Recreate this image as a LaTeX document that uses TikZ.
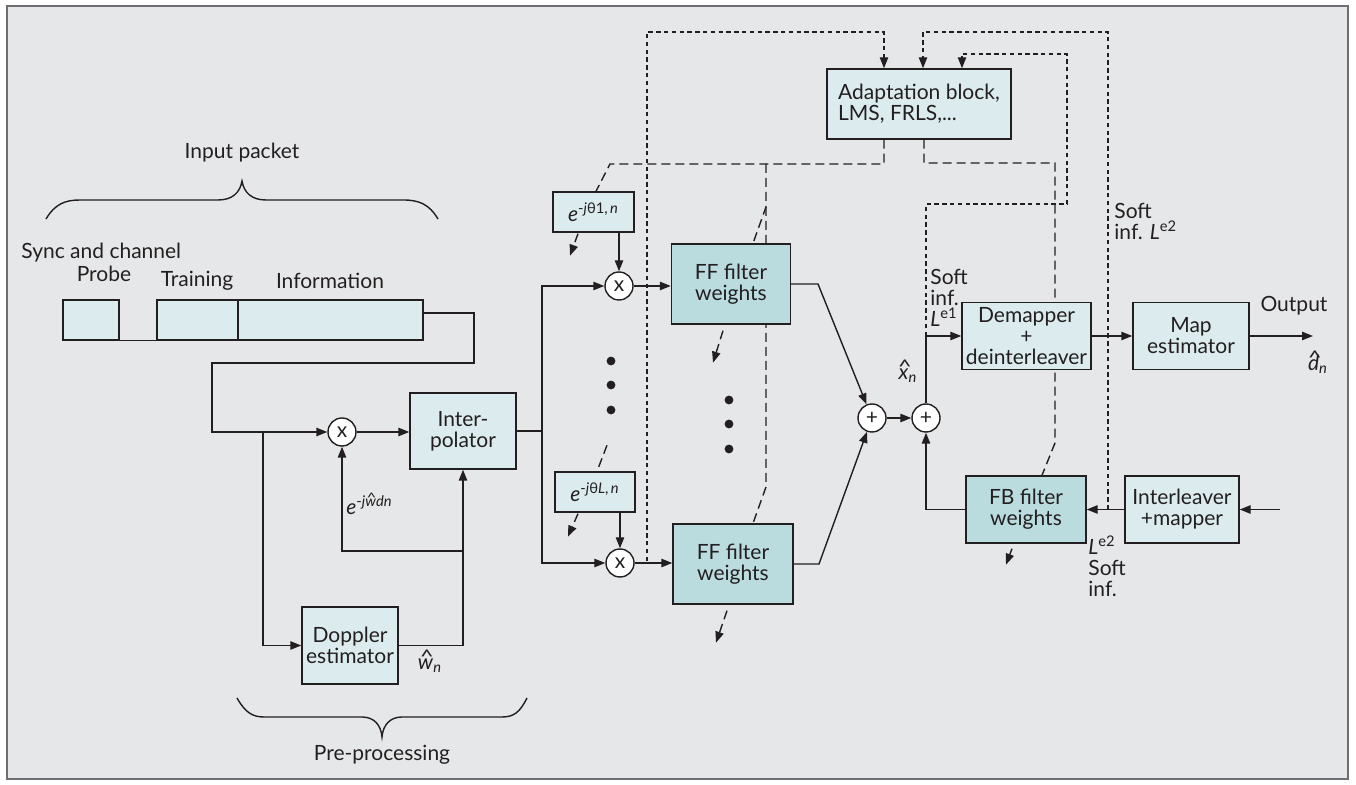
\documentclass[tikz,border=0pt]{standalone}
\usepackage{fontspec}
\setmainfont{Lato}
\usetikzlibrary{arrows.meta,calc}
\definecolor{bgc}{HTML}{E6E7E8}
\definecolor{framec}{HTML}{6D6E71}
\definecolor{boxc}{HTML}{DCEBEE}
\definecolor{ffc}{HTML}{BBDCDF}
\definecolor{linec}{HTML}{231F20}
\pgfdeclarelayer{bg}\pgfdeclarelayer{lines}\pgfsetlayers{bg,lines,main}
\newcommand\myhat[1]{{\ooalign{\textit{#1}\cr\hidewidth\kern0.12em\raisebox{0.28em}{\scalebox{1.15}[0.9]{\textasciicircum}}\hidewidth\cr}}}
\begin{document}
\begin{tikzpicture}[x=0.5pt,y=-0.5pt, font=\fontsize{10.5}{10.5}\selectfont,
 >={Triangle[length=5.5pt,width=4.2pt]},
 box/.style={draw=linec, line width=0.7pt, fill=boxc, inner sep=1pt, align=center, text=linec},
 wbox/.style={box, fill=ffc},
 op/.style={circle, draw=linec, fill=white, line width=0.7pt, minimum size=14pt, inner sep=0pt, text=linec},
 conn/.style={draw=linec, line width=0.7pt},
 fdash/.style={conn, dash pattern=on 2.2pt off 1.7pt},
 ldash/.style={conn, dash pattern=on 4.5pt off 2.5pt},
 lbl/.style={inner sep=0pt, align=left, text=linec},
 dot/.style={fill=linec}]
\useasboundingbox (0,0) rectangle (1356,785);
\begin{pgfonlayer}{bg}
\fill[white] (0,0) rectangle (1356,785);
\filldraw[fill=bgc, draw=framec, line width=1pt] (7,6) rectangle (1348,779);
\end{pgfonlayer}

% packet
\node[box, minimum width=28pt, minimum height=20pt] (probe) at (91,320) {};
\node[box, minimum width=40.5pt, minimum height=20pt] (train) at (197.5,320) {};
\node[box, minimum width=92.5pt, minimum height=20pt] (info) at (330.5,320) {};
\node[lbl, anchor=west] (sync) at (21,253) {Sync and channel};
\node[lbl] (probel) at (104,274) {Probe};
\node[lbl] (trainl) at (197,281) {Training};
\node[lbl] (infol) at (330,281) {Information};
\node[lbl] (inpkt) at (242,153) {Input packet};

% pre-processing
\node[box, minimum width=53pt, minimum height=38pt] (interp) at (463,431) {Inter-\\polator};
\node[box, minimum width=48pt, minimum height=38.5pt] (dopp) at (350,645.5) {Doppler\\estimator};
\node[op] (mx0) at (342,432) {x};
\node[lbl, anchor=west] (ewd) at (346,505) {\textit{e}\textsuperscript{-\textit{j}\myhat{w}\textit{dn}}};
\node[lbl] (wn) at (430,666) {\myhat{w}\textsubscript{\textit{n}}};
\node[lbl] (prep) at (382,755) {Pre-processing};

% FF branches
\node[box, minimum width=40.5pt, minimum height=20pt] (th1) at (593.5,212) {\textit{e}\textsuperscript{-\textit{j}θ1,\,\textit{n}}};
\node[box, minimum width=40pt, minimum height=20pt] (thL) at (595,492) {\textit{e}\textsuperscript{-\textit{j}θ\textit{L},\,\textit{n}}};
\node[op] (mx1) at (619,286) {x};
\node[op] (mx2) at (620,563) {x};
\node[wbox, minimum width=59.5pt, minimum height=40pt] (ff1) at (731,284) {FF filter\\weights};
\node[wbox, minimum width=60pt, minimum height=40pt] (ff2) at (733,564) {FF filter\\weights};

% adaptation and right part
\node[box, minimum width=92pt, minimum height=35pt, align=left] (adapt) at (919,104) {Adaptation block,\\LMS, FRLS,...};
\node[op] (add1) at (872,418) {+};
\node[op] (add2) at (926,418) {+};
\node[box, minimum width=64.5pt, minimum height=33.5pt] (demap) at (1026.5,336) {Demapper\\+\\deinterleaver};
\node[box, minimum width=58pt, minimum height=33.5pt] (map) at (1191,336) {Map\\estimator};
\node[wbox, minimum width=60pt, minimum height=33.5pt] (fb) at (1026,509.5) {FB filter\\weights};
\node[box, minimum width=57pt, minimum height=33.5pt] (intl) at (1182,509.5) {Interleaver\\+mapper};

\node[lbl] (xn) at (908,376) {\myhat{x}\textsubscript{\textit{n}}};
\node[lbl] (dn) at (1318,364) {\myhat{d}\textsubscript{\textit{n}}};
\node[lbl] (outl) at (1294,306) {Output};
\node[lbl, anchor=west] (le1) at (930,298) {Soft\\inf.\\\textit{L}\textsuperscript{e1}};
\node[lbl, anchor=west] (le2a) at (1114,221) {Soft\\inf. \textit{L}\textsuperscript{e2}};
\node[lbl, anchor=west] (le2b) at (1088,566) {\textit{L}\textsuperscript{e2}\\Soft\\inf.};

% dots
\foreach \y in {361,385,410} \fill[dot] (611,\y) circle[radius=2.2pt];
\foreach \y in {400,424,449} \fill[dot] (729,\y) circle[radius=2.2pt];

\coordinate (tapA) at (647,561);
\coordinate (inA) at (884,32);
\coordinate (tapB) at (1108,509.5);
\coordinate (inB) at (923,32);
\coordinate (tapC) at (926,336);
\coordinate (c2) at (1067,204);
\coordinate (inC) at (962,54);
\coordinate (d1) at (884,164);
\coordinate (d2) at (610,164);
\coordinate (e1) at (766,164);
\coordinate (e2) at (766,207);
\coordinate (e3) at (766,487);
\coordinate (f1) at (924,163);
\coordinate (f2) at (1055,163);
\coordinate (f3) at (1055,443);
\coordinate (out) at (1313,336);
\coordinate (inp) at (1280,509.5);

\begin{pgfonlayer}{lines}
% braces
\draw[conn] (46,219) .. controls (55,204) and (65,200) .. (80,200) -- (218,200)
  .. controls (232,200) and (240,193) .. (242,181) .. controls (244,193) and (252,200) .. (266,200)
  -- (403,200) .. controls (419,200) and (429,204) .. (438,219);
\draw[conn] (237,698) .. controls (245,712) and (252,717) .. (264,717) -- (362,717)
  .. controls (374,717) and (381,725) .. (382,737) .. controls (383,725) and (390,717) .. (402,717)
  -- (502,717) .. controls (514,717) and (520,712) .. (527,698);

% solid connectors
\draw[conn] (probe.south east) -- (train.south west);
\draw[conn,->] ($(info.east)+(0,-7)$) -| (474,363) -| (212,432) -- (mx0.west);
\draw[conn,->] (263,432) |- (dopp.west);
\draw[conn,->] (mx0.east) -- (mx0.east -| interp.west);
\draw[conn,->] (dopp.east) -| (interp.south);
\draw[conn,->] (463,551) -| (mx0.south);
\draw[conn,->] (interp.east) -| (542,286) -- (mx1.west);
\draw[conn,->] (542,431) |- (mx2.west);
\draw[conn,->] (mx1 |- th1.south) -- (mx1.north);
\draw[conn,->] (mx2 |- thL.south) -- (mx2.north);
\draw[conn,->] (mx1.east) -- (ff1.west |- mx1.east);
\draw[conn,->] (mx2.east) -- (ff2.west |- mx2.east);
\draw[conn,->] (ff1.east) -- (818,284) -- (add1);
\draw[conn,->] (ff2.east) -- (819,564) -- (add1);
\draw[conn,->] (add1) -- (add2);
\draw[conn,->] (add2.north) |- (demap.west);
\draw[conn,->] (demap) -- (map);
\draw[conn,->] (map.east) -- (out);
\draw[conn,->] (fb.west) -| (add2.south);
\draw[conn,->] (intl) -- (fb);
\draw[conn,->] (inp) -- (intl.east);

% fine dashed (inputs to adaptation)
\draw[fdash,->] (tapA) |- (inA) -- (inA |- adapt.north);
\draw[fdash,->] (tapB) |- (inB) -- (inB |- adapt.north);
\draw[fdash,->] (tapC) |- (c2) |- (inC) -- (inC |- adapt.north);

% long dashed (outputs of adaptation)
\draw[ldash] (adapt.south -| d1) |- (d2) -- ($(th1.north)+(2.5,0)$);
\draw[ldash] (e1) -- (e2) -- ($(ff1.north)+(22,0)$);
\draw[ldash] (e2) -- (e3) -- ($(ff2.north)+(20,0)$);
\draw[ldash] (adapt.south -| f1) |- (f2) -- (f3) -- ($(fb.north)+(16,0)$);
\draw[ldash] ($(thL.north)+(12,-26)$) -- ($(thL.north)+(2,0)$);

% dashed update arrows
\draw[ldash,->] ($(th1.south)+(-15.5,1)$) -- ++(-8,22);
\draw[ldash,->] ($(thL.south)+(-17,1)$) -- ++(-10,23);
\draw[ldash,->] ($(ff1.south)+(-8,6)$) -- ++(-10,32);
\draw[ldash,->] ($(ff2.south)+(-6,6)$) -- ++(-11,32);
\draw[ldash,->] ($(fb.south)+(-14,5)$) -- ++(-6,16);
\end{pgfonlayer}
\end{tikzpicture}
\end{document}
